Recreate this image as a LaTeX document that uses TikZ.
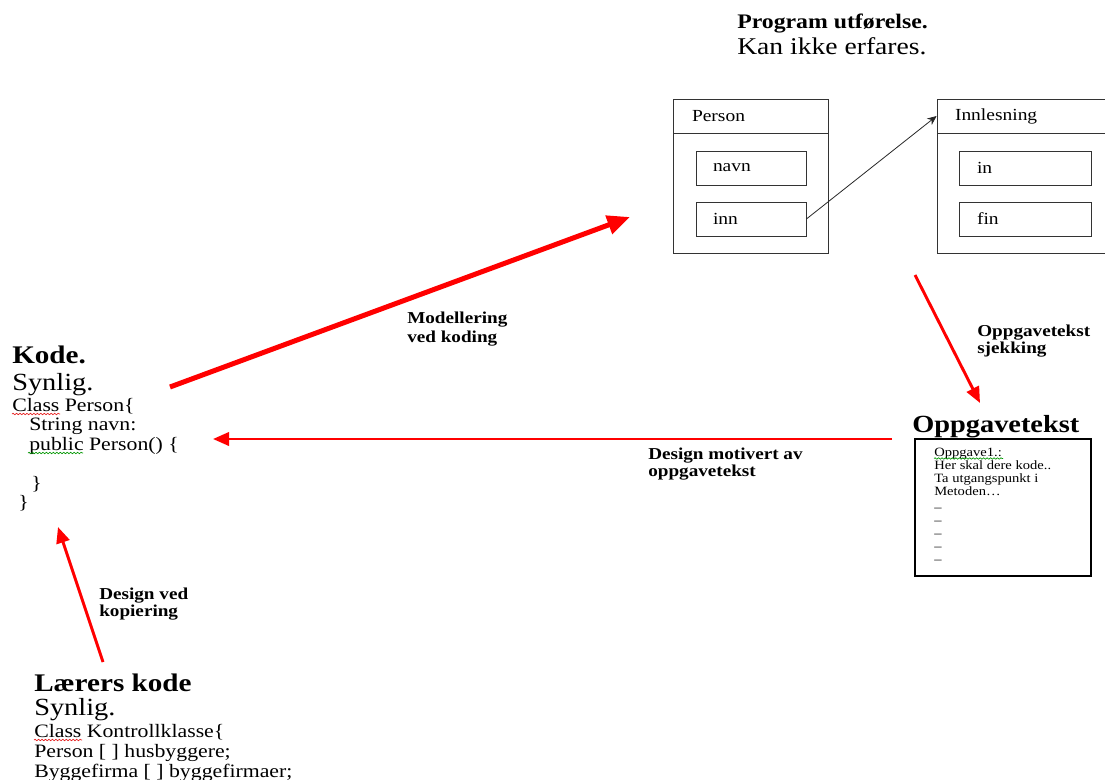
\documentclass[tikz,border=0pt]{standalone}
\usepackage{fontspec}
\setmainfont{Liberation Serif}[FakeStretch=1.15]
\usetikzlibrary{arrows.meta,decorations.pathmorphing}
\definecolor{spellred}{RGB}{230,30,30}
\definecolor{spellgreen}{RGB}{0,150,0}
\newcommand{\fs}[1]{\fontsize{#1}{#1}\selectfont}
\begin{document}
\begin{tikzpicture}[x=0.75pt,y=-0.75pt,
  txt/.style={inner sep=0pt, anchor=base west},
  title/.style={txt, font=\fs{15.5}\bfseries},
  sub/.style={txt, font=\fs{18.5}},
  code/.style={txt, font=\fs{14.2}},
  lbl/.style={txt, font=\fs{12.5}\bfseries},
  small/.style={txt, font=\fs{9.5}},
  objbox/.style={draw=black!80, line width=0.6pt, inner sep=0pt},
  headbox/.style={objbox, align=left, font=\fs{12.7}},
  fieldbox/.style={objbox, align=left, font=\fs{12.7}, minimum height=25.5pt},
  bigarrow/.style={red, line width=3.75pt, -{Triangle[length=17pt,width=14pt]}},
  redarrow/.style={red, line width=2.2pt, -{Triangle[length=12pt,width=10pt]}},
  refarrow/.style={black!85, line width=0.6pt, -{Stealth[length=7pt,width=6pt]}},
  spell/.style={decorate, decoration={snake, amplitude=0.55pt, segment length=2.6pt}, line width=0.5pt},
]
\useasboundingbox (0,0) rectangle (1105,780);

% ---------- running program: objects ----------
\node[title] (prog) at (737,29) {Program utførelse.};
\node[txt, font=\fs{18}] (kan) at (737,55) {Kan ikke erfares.};

% Person object
\node[headbox, minimum width=116.25pt, minimum height=25.5pt, text width=87.75pt,
      inner xsep=14.25pt] (personhead) at (750.5,116) {Person};
\node[objbox, minimum width=116.25pt, minimum height=90pt] (personbody) at (750.5,193) {};
\node[fieldbox, text width=57pt, inner xsep=12.75pt] (navn) at (751,168) {navn};
\node[fieldbox, text width=57pt, inner xsep=12.75pt] (inn) at (751,219) {inn};

% Innlesning object
\node[headbox, minimum width=126.75pt, minimum height=25.5pt, text width=99.75pt,
      inner xsep=13.5pt] (innhead) at (1021.5,116) {Innlesning};
\node[objbox, minimum width=126.75pt, minimum height=90pt] (innbody) at (1021.5,193) {};
\node[fieldbox, text width=72pt, inner xsep=13.5pt] (in) at (1025,168) {in};
\node[fieldbox, text width=72pt, inner xsep=13.5pt] (fin) at (1025,219) {fin};

\draw[refarrow] (inn.east) -- (innhead.west);

% ---------- the code ----------
\node[txt, font=\fs{19}\bfseries] (kode) at (12,363) {Kode.};
\node[sub] (synlig1) at (12,390) {Synlig.};
\node[code] (c1) at (12,411) {Class Person\{};
\node[code] (c2) at (29,430) {String navn:};
\node[code] (c3) at (29,450) {public Person() \{};
\node[code] (c4) at (31,489) {\}};
\node[code] (c5) at (18,508) {\}};
\draw[spellred, spell] (12,414) -- (60,414);
\draw[spellgreen, spell] (28,453) -- (83,453);

% ---------- teacher's code ----------
\node[txt, font=\fs{19}\bfseries] (laerer) at (34,691) {Lærers kode};
\node[sub] (synlig2) at (34,715) {Synlig.};
\node[code] (l1) at (34,737) {Class Kontrollklasse\{};
\node[code] (l2) at (34,757) {Person [ ] husbyggere;};
\node[code] (l3) at (34,777) {Byggefirma [ ] byggefirmaer;};
\draw[spellred, spell] (34,740) -- (82,740);

% ---------- assignment text ----------
\node[txt, font=\fs{18.5}\bfseries] (oppg) at (912,432) {Oppgavetekst};
\node[draw=black, line width=1.5pt, minimum width=132pt, minimum height=102.75pt,
      inner sep=0pt] (oppgbox) at (1003,507.5) {};
\node[small] (o1) at (934,456) {Oppgave1.:};
\node[small] (o2) at (934,469) {Her skal dere kode..};
\node[small] (o3) at (934,482) {Ta utgangspunkt i};
\node[small] (o4) at (934,495) {Metoden…};
\foreach \k in {0,...,4}
  \node[small] (d\k) at (934,511+13*\k) {–};
\draw[spellgreen, spell] (934,458.5) -- (1003,458.5);

% ---------- transitions ----------
\coordinate (a1s) at (170,387);
\coordinate (a1e) at (630,217);
\draw[bigarrow] (a1s) -- (a1e);
\node[lbl] (mod1) at (407,324) {Modellering};
\node[lbl] (mod2) at (407,342) {ved koding};

\coordinate (a2s) at (915,275);
\coordinate (a2e) at (980,403);
\draw[redarrow] (a2s) -- (a2e);
\node[lbl] (sj1) at (977,336) {Oppgavetekst};
\node[lbl] (sj2) at (977,353) {sjekking};

\coordinate (a3s) at (892,439);
\coordinate (a3e) at (213,439);
\draw[redarrow, line width=2pt] (a3s) -- (a3e);
\node[lbl] (mot1) at (648,459) {Design motivert av};
\node[lbl] (mot2) at (648,476) {oppgavetekst};

\coordinate (a4s) at (103,662);
\coordinate (a4e) at (58,527);
\draw[redarrow] (a4s) -- (a4e);
\node[lbl] (kop1) at (99,599) {Design ved};
\node[lbl] (kop2) at (99,616) {kopiering};
\end{tikzpicture}
\end{document}
